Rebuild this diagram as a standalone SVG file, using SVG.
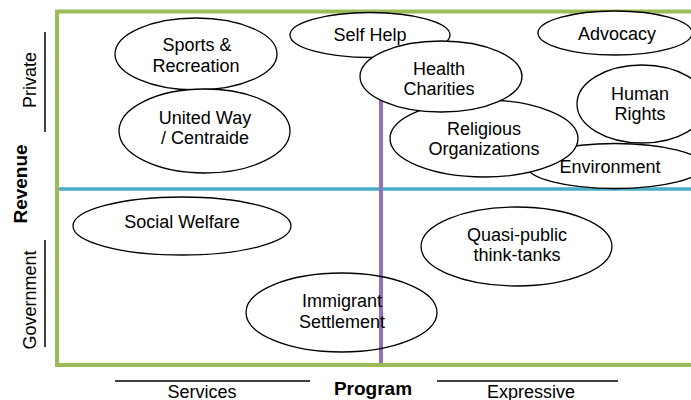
<svg xmlns="http://www.w3.org/2000/svg" width="691" height="400" viewBox="0 0 691 400">
  <style>
    .node ellipse { fill: #ffffff; stroke: #000000; stroke-width: 1.3; }
    .node text, .lbl { font-family: "Liberation Sans", Arial, sans-serif; font-size: 18px; fill: #000000; text-anchor: middle; }
    .axis { font-family: "Liberation Sans", Arial, sans-serif; font-size: 19px; font-weight: bold; fill: #000000; text-anchor: middle; }
    .rule { stroke: #000000; stroke-width: 1.5; }
  </style>
  <rect width="691" height="400" fill="#ffffff"/>

  <!-- quadrant frame and dividers -->
  <g id="connectors">
    <rect x="57" y="11.5" width="660" height="353.5" fill="none" stroke="#9bbb59" stroke-width="4"/>
    <line x1="59" y1="189" x2="691" y2="189" stroke="#4bacc6" stroke-width="3.5"/>
    <line x1="381" y1="13" x2="381" y2="363" stroke="#9272b9" stroke-width="4"/>
  </g>

  <!-- outline only, so the divider shows through -->
  <g id="immigrant-settlement" class="node">
    <ellipse cx="341.5" cy="312.5" rx="95.5" ry="39.5" style="fill:none"/>
    <text x="342" y="307">Immigrant</text>
    <text x="342" y="328">Settlement</text>
  </g>

  <g id="sports-recreation" class="node">
    <ellipse cx="196" cy="54" rx="81" ry="36"/>
    <text x="197" y="51">Sports &amp;</text>
    <text x="196" y="72">Recreation</text>
  </g>
  <g id="united-way" class="node">
    <ellipse cx="204.5" cy="131" rx="85.5" ry="42"/>
    <text x="205" y="124">United Way</text>
    <text x="205" y="144">/ Centraide</text>
  </g>
  <g id="self-help" class="node">
    <ellipse cx="370" cy="35" rx="80" ry="22.5"/>
    <text x="370" y="41">Self Help</text>
  </g>
  <g id="advocacy" class="node">
    <ellipse cx="615" cy="33" rx="77" ry="22"/>
    <text x="617" y="40">Advocacy</text>
  </g>
  <g id="human-rights" class="node">
    <ellipse cx="642" cy="104" rx="65" ry="39"/>
    <text x="640" y="100">Human</text>
    <text x="640" y="120">Rights</text>
  </g>
  <g id="environment" class="node">
    <ellipse cx="615" cy="166" rx="88" ry="22.5"/>
    <text x="610" y="173">Environment</text>
  </g>
  <g id="religious-organizations" class="node">
    <ellipse cx="484" cy="138.5" rx="94" ry="38.5"/>
    <text x="484" y="135">Religious</text>
    <text x="484" y="155">Organizations</text>
  </g>
  <g id="health-charities" class="node">
    <ellipse cx="441" cy="76.5" rx="81" ry="35.5"/>
    <text x="439" y="75">Health</text>
    <text x="439" y="95">Charities</text>
  </g>
  <g id="social-welfare" class="node">
    <ellipse cx="182" cy="226" rx="109" ry="29"/>
    <text x="182" y="228">Social Welfare</text>
  </g>
  <g id="quasi-public" class="node">
    <ellipse cx="516.5" cy="246.5" rx="95.5" ry="39.5"/>
    <text x="517" y="241">Quasi-public</text>
    <text x="517" y="261">think-tanks</text>
  </g>

  <!-- vertical axis: Revenue -->
  <g id="revenue-axis">
    <line class="rule" x1="45" y1="32" x2="45" y2="132"/>
    <line class="rule" x1="45" y1="240" x2="45" y2="347"/>
    <text class="lbl" transform="translate(36,80) rotate(-90)">Private</text>
    <text class="lbl" transform="translate(36,300) rotate(-90)">Government</text>
    <text class="axis" transform="translate(27,184) rotate(-90)">Revenue</text>
  </g>

  <!-- horizontal axis: Program -->
  <g id="program-axis">
    <line class="rule" x1="115" y1="381" x2="310" y2="381"/>
    <line class="rule" x1="437" y1="381" x2="618" y2="381"/>
    <text class="lbl" x="202" y="398">Services</text>
    <text class="axis" x="373" y="395">Program</text>
    <text class="lbl" x="531" y="398">Expressive</text>
  </g>
</svg>
